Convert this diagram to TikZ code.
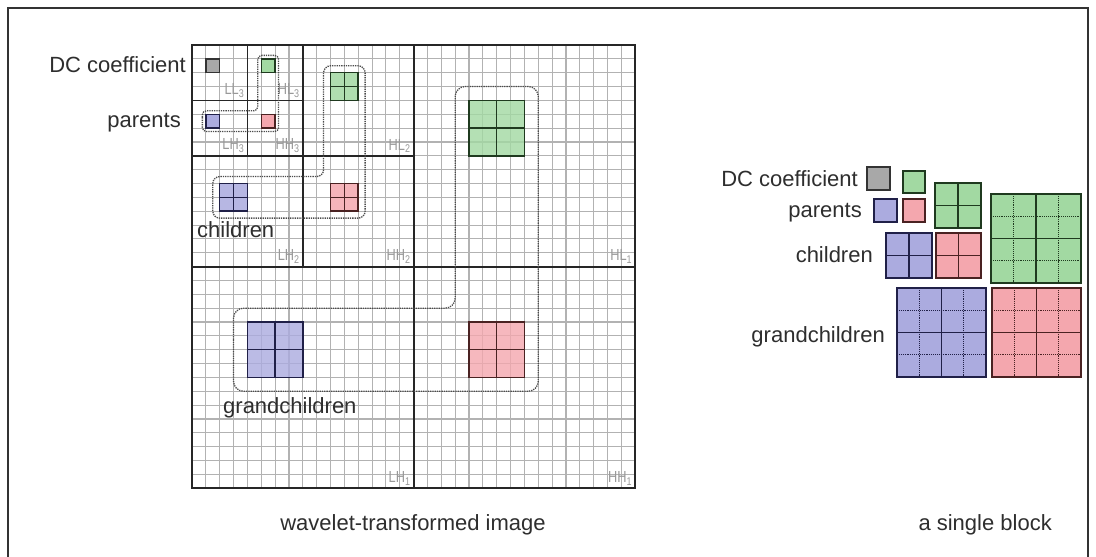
\documentclass[tikz,border=0pt]{standalone}
\usepackage{fontspec}
\usepackage{graphicx}
\setmainfont{Liberation Sans}

\definecolor{gfill}{HTML}{A2D9A2}
\definecolor{bfill}{HTML}{ABABDF}
\definecolor{rfill}{HTML}{F4A7AE}
\definecolor{kfill}{HTML}{A8A8A8}
\definecolor{gline}{HTML}{1F3A1F}
\definecolor{bline}{HTML}{202048}
\definecolor{rline}{HTML}{4A2222}
\definecolor{kline}{HTML}{333333}

\tikzset{
  lbl/.style={text=black!82, font=\fontsize{22}{26}\selectfont, inner sep=0pt},
  band/.style={text=black!40, font=\fontsize{16}{16}\selectfont, inner sep=3pt, anchor=south east},
  gridln/.style={draw=black!30, line width=1.1pt},
  bandln/.style={draw=black!85, line width=1.8pt},
  sqG/.style={draw=gline, fill=gfill, line width=1.5pt},
  sqB/.style={draw=bline, fill=bfill, line width=1.5pt},
  sqR/.style={draw=rline, fill=rfill, line width=1.5pt},
  sqK/.style={draw=kline, fill=kfill, line width=1.5pt},
  crossG/.style={draw=gline, line width=1.4pt},
  crossB/.style={draw=bline, line width=1.4pt},
  crossR/.style={draw=rline, line width=1.4pt},
  quarter/.style={densely dotted, line width=0.9pt},
  tree/.style={densely dotted, line width=1.3pt, draw=black!70},
  frameln/.style={draw=black!80, line width=2pt}
}

\begin{document}
\begin{tikzpicture}[x=1pt, y=-1pt]
\useasboundingbox (0,0) rectangle (1096,557);
\fill[white] (0,0) rectangle (1096,557);

% outer frame
\draw[frameln] (8,557) -- (8,8) -- (1088,8) -- (1088,557);

% ---------------- wavelet-transformed image (32 x 32 coefficients) ----------------
\begin{scope}[shift={(192,45)}, x=13.85pt, y=-13.85pt]
  \foreach \i in {0,...,32} {
    \draw[gridln] (\i,0) -- (\i,32);
    \draw[gridln] (0,\i) -- (32,\i);
  }

  % DC coefficient and parents
  \draw[sqK] (1,1) rectangle (2,2);
  \draw[sqG] (5,1) rectangle (6,2);
  \draw[sqB] (1,5) rectangle (2,6);
  \draw[sqR] (5,5) rectangle (6,6);

  % children
  \draw[sqG, fill opacity=0.85] (10,2) rectangle (12,4);
  \draw[crossG] (11,2) -- (11,4) (10,3) -- (12,3);
  \draw[sqB, fill opacity=0.85] (2,10) rectangle (4,12);
  \draw[crossB] (3,10) -- (3,12) (2,11) -- (4,11);
  \draw[sqR, fill opacity=0.85] (10,10) rectangle (12,12);
  \draw[crossR] (11,10) -- (11,12) (10,11) -- (12,11);

  % grandchildren
  \draw[sqG, fill opacity=0.8] (20,4) rectangle (24,8);
  \draw[crossG] (22,4) -- (22,8) (20,6) -- (24,6);
  \draw[sqB, fill opacity=0.8] (4,20) rectangle (8,24);
  \draw[crossB] (6,20) -- (6,24) (4,22) -- (8,22);
  \draw[sqR, fill opacity=0.8] (20,20) rectangle (24,24);
  \draw[crossR] (22,20) -- (22,24) (20,22) -- (24,22);

  % subband boundaries
  \draw[bandln] (0,0) rectangle (32,32);
  \draw[bandln] (16,0) -- (16,32) (0,16) -- (32,16);
  \draw[bandln] (8,0) -- (8,16) (0,8) -- (16,8);
  \draw[bandln] (4,0) -- (4,8) (0,4) -- (8,4);

  % subband names
  \node[band] (ll3) at (4,4)   {\scalebox{0.8}[1]{LL\textsubscript{3}}};
  \node[band] (hl3) at (8,4)   {\scalebox{0.8}[1]{HL\textsubscript{3}}};
  \node[band] (lh3) at (4,8)   {\scalebox{0.8}[1]{LH\textsubscript{3}}};
  \node[band] (hh3) at (8,8)   {\scalebox{0.8}[1]{HH\textsubscript{3}}};
  \node[band] (hl2) at (16,8)  {\scalebox{0.8}[1]{HL\textsubscript{2}}};
  \node[band] (lh2) at (8,16)  {\scalebox{0.8}[1]{LH\textsubscript{2}}};
  \node[band] (hh2) at (16,16) {\scalebox{0.8}[1]{HH\textsubscript{2}}};
  \node[band] (hl1) at (32,16) {\scalebox{0.8}[1]{HL\textsubscript{1}}};
  \node[band] (lh1) at (16,32) {\scalebox{0.8}[1]{LH\textsubscript{1}}};
  \node[band] (hh1) at (32,32) {\scalebox{0.8}[1]{HH\textsubscript{1}}};

  % parent-child trees
  \draw[tree, rounded corners=4pt]
    (0.75,5.5) -- (0.75,4.75) -- (4.75,4.75) -- (4.75,0.75) -- (6.25,0.75)
    -- (6.25,6.25) -- (0.75,6.25) -- cycle;
  \draw[tree, rounded corners=7pt]
    (1.5,11) -- (1.5,9.5) -- (9.5,9.5) -- (9.5,1.5) -- (12.5,1.5)
    -- (12.5,12.5) -- (1.5,12.5) -- cycle;
  \draw[tree, rounded corners=10pt]
    (3,22) -- (3,19) -- (19,19) -- (19,3) -- (25,3)
    -- (25,25) -- (3,25) -- cycle;
\end{scope}

\node[lbl, anchor=base east] (dcL) at (186,72) {DC coefficient};
\node[lbl, anchor=base east] (parL) at (181,127) {parents};
\node[lbl, anchor=base west] (chL) at (197,237) {children};
\node[lbl, anchor=base west] (gcL) at (223,413) {grandchildren};
\node[lbl, anchor=base] (capL) at (413,530) {wavelet-transformed image};

% ---------------- a single block ----------------
\draw[sqK] (867,167) rectangle (890,190);
\draw[sqG] (903,171) rectangle (925,193);
\draw[sqB] (874,199) rectangle (897,222);
\draw[sqR] (903,199) rectangle (925,222);

\draw[sqG] (935,183) rectangle (981,228);
\draw[crossG] (958,183) -- (958,228) (935,205.5) -- (981,205.5);
\draw[sqB] (886,233) rectangle (932,278);
\draw[crossB] (909,233) -- (909,278) (886,255.5) -- (932,255.5);
\draw[sqR] (936,233) rectangle (981,278);
\draw[crossR] (958.5,233) -- (958.5,278) (936,255.5) -- (981,255.5);

\draw[sqG] (991,194) rectangle (1081,283);
\draw[gline, quarter] (1013.5,194) -- (1013.5,283) (1058.5,194) -- (1058.5,283)
  (991,216.25) -- (1081,216.25) (991,260.75) -- (1081,260.75);
\draw[crossG] (1036,194) -- (1036,283) (991,238.5) -- (1081,238.5);

\draw[sqB] (897,288) rectangle (986,377);
\draw[bline, quarter] (919.25,288) -- (919.25,377) (963.75,288) -- (963.75,377)
  (897,310.25) -- (986,310.25) (897,354.75) -- (986,354.75);
\draw[crossB] (941.5,288) -- (941.5,377) (897,332.5) -- (986,332.5);

\draw[sqR] (992,288) rectangle (1081,377);
\draw[rline, quarter] (1014.25,288) -- (1014.25,377) (1058.75,288) -- (1058.75,377)
  (992,310.25) -- (1081,310.25) (992,354.75) -- (1081,354.75);
\draw[crossR] (1036.5,288) -- (1036.5,377) (992,332.5) -- (1081,332.5);

\node[lbl, anchor=base east] (dcR) at (858,186) {DC coefficient};
\node[lbl, anchor=base east] (parR) at (862,217) {parents};
\node[lbl, anchor=base east] (chR) at (873,262) {children};
\node[lbl, anchor=base east] (gcR) at (885,342) {grandchildren};
\node[lbl, anchor=base east] (capR) at (1052,530) {a single block};
\end{tikzpicture}
\end{document}
